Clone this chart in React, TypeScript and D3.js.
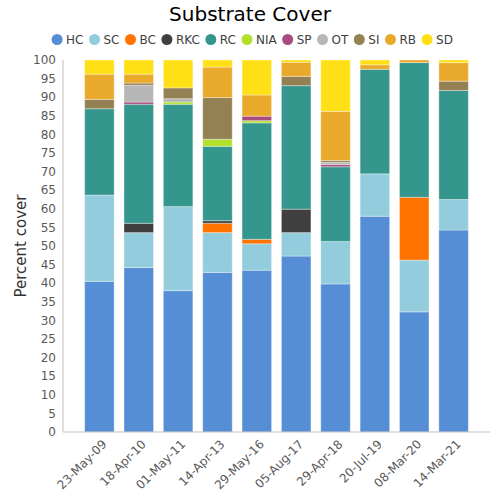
import React from "react";
import * as d3 from "d3";

const dates = ["23-May-09","18-Apr-10","01-May-11","14-Apr-13","29-May-16","05-Aug-17","29-Apr-18","20-Jul-19","08-Mar-20","14-Mar-21"];
const categories = ["HC","SC","BC","RKC","RC","NIA","SP","OT","SI","RB","SD"];
const colors = ["#558ed5","#93cddd","#ff7400","#404040","#35968e","#b3e02b","#a74c7c","#b7b7b7","#938153","#e9aa2b","#ffdf15"];

const HC  = [40.5, 44.2, 38.0, 42.9, 43.5, 47.3, 39.8, 58.0, 32.3, 54.3];
const SC  = [23.2,  9.4, 22.6, 10.7,  7.1,  6.3, 11.4, 11.4, 13.9,  8.2];
const BC  = [ 0,    0,    0,    2.5,  1.2,  0,    0,    0,   16.9,  0  ];
const RKC = [ 0,    2.5,  0,    0.7,  0,    6.3,  0,    0,    0,    0  ];
const RC  = [23.2, 32.0, 27.5, 20.0, 31.3, 33.2, 20.1, 28.1, 36.2, 29.3];
const NIA = [ 0,    0,    0.6,  1.9,  0.6,  0,    0,    0,    0,    0  ];
const SP  = [ 0,    0.6,  0,    0,    1.2,  0,    0.6,  0,    0,    0  ];
const OT  = [ 0,    4.5,  0.9,  0,    0,    0,    0.6,  0,    0,    0  ];
const SI  = [ 2.5,  0.6,  2.9, 11.2,  0,    2.5,  0.5,  0,    0,    2.5];
const RB  = [ 6.8,  2.4,  0,    8.2,  5.7,  3.8, 13.2,  1.2,  0.7,  5.0];
const SD  = [ 3.8,  3.8,  7.5,  1.9,  9.4,  0.6, 13.8,  1.3,  0,    0.7];

const yTicks = d3.range(0, 101, 5);

const series = [HC, SC, BC, RKC, RC, NIA, SP, OT, SI, RB, SD];

const FONT = "DejaVu Sans";

function measure(text: string, size: number) {
  const c = document.createElement("canvas").getContext("2d");
  if (!c) return text.length * size * 0.6;
  c.font = `${size}px "${FONT}"`;
  return c.measureText(text).width;
}

export default function App() {
  const W = 500, H = 500;
  const left = 63, right = 490, top = 60, bottom = 432;

  const rows = dates.map((d, i) => {
    const r: any = { date: d };
    categories.forEach((c, k) => (r[c] = series[k][i]));
    return r;
  });
  const stacked = d3.stack().keys(categories)(rows);

  const x = d3.scaleBand().domain(dates).range([left, right]).paddingInner(0.25).paddingOuter(0.55);
  const y = d3.scaleLinear().domain([0, 100]).range([bottom, top]);
  const color = d3.scaleOrdinal<string, string>().domain(categories).range(colors);

  // legend layout
  const legSize = 12;
  const items = categories.map((c) => ({ c, w: 9 + measure(c, legSize) + 11 }));
  const totalW = d3.sum(items, (d) => d.w) - 11;
  let cursor = 250 - totalW / 2 + 5;
  const legendPos = items.map((it) => {
    const p = cursor;
    cursor += it.w;
    return { ...it, x: p };
  });

  return (
    <svg width={W} height={H} style={{ position: "absolute", left: 0, top: 0, fontFamily: FONT }}>
      <rect width={W} height={H} fill="#fff" />
      <text x={250} y={20.5} textAnchor="middle" fontSize={20} fill="#000">Substrate Cover</text>
      {legendPos.map((l) => (
        <g key={l.c}>
          <circle cx={l.x} cy={39.5} r={5.5} fill={color(l.c)} />
          <text x={l.x + 9} y={44} fontSize={legSize} fill="#404040">{l.c}</text>
        </g>
      ))}
      {stacked.map((s) => (
        <g key={s.key} fill={color(s.key)}>
          {s.map((d, i) => {
            const h = y(d[0]) - y(d[1]);
            if (h <= 0) return null;
            return (
              <rect key={i} x={x(dates[i])} y={y(d[1])} width={x.bandwidth()} height={h}
                stroke="#fff" strokeOpacity={0.35} strokeWidth={1} />
            );
          })}
        </g>
      ))}
      <line x1={left} x2={left} y1={top} y2={bottom} stroke="#bfbfbf" />
      <line x1={left} x2={right} y1={bottom} y2={bottom} stroke="#bfbfbf" />
      {yTicks.map((t) => (
        <text key={t} x={56} y={y(t)} dy="0.35em" textAnchor="end" fontSize={12} fill="#595959">{t}</text>
      ))}
      {dates.map((d) => (
        <text key={d} transform={`translate(${(x(d) as number) + x.bandwidth() / 2 + 5},${442}) rotate(-45)`}
          textAnchor="end" dy="0.35em" fontSize={12} fill="#595959">{d}</text>
      ))}
      <text transform={`translate(26,${(top + bottom) / 2}) rotate(-90)`} textAnchor="middle" fontSize={15} fill="#333">Percent cover</text>
    </svg>
  );
}
